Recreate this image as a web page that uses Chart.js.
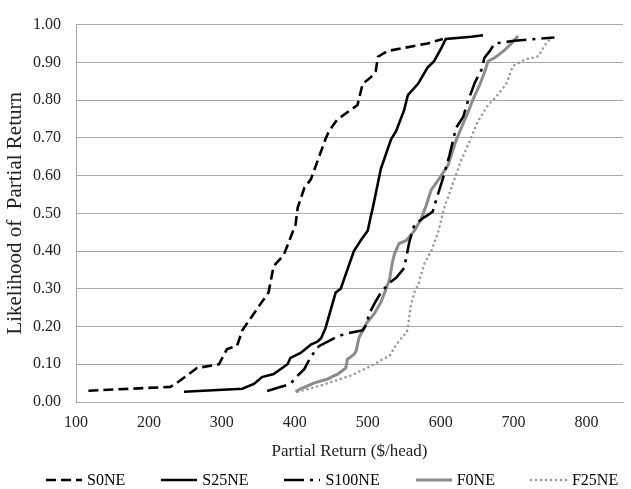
<!DOCTYPE html>
<html>
<head>
<meta charset="utf-8">
<script src="https://cdn.jsdelivr.net/npm/chart.js@4.4.1/dist/chart.umd.min.js"></script>
<style>
  html, body { margin: 0; padding: 0; background: #fff; }
  .wrap { position: relative; width: 631px; height: 489px; }
  canvas { display: block; }
  #legend {
    position: absolute; left: 45px; top: 470px; height: 20px;
    display: flex; gap: 35px; align-items: center;
    font: 16px 'Liberation Serif', 'Times New Roman', serif; color: #000;
  }
  #legend .item { display: flex; align-items: center; white-space: pre; }
  #legend svg { margin-right: 4px; }
</style>
</head>
<body>
<div class="wrap">
  <canvas id="returnChart" width="631" height="489"></canvas>
  <div id="legend"></div>
</div>
<script>
// cumulative likelihood vs partial return ($/head)
const seriesNames = ['S0NE', 'S25NE', 'S100NE', 'F0NE', 'F25NE'];

const s0neX = [117, 229, 238, 266, 296, 307, 321, 328, 353, 364, 371, 385, 401, 404, 413, 422, 442, 447, 458, 486, 493, 504, 511, 514, 527, 582, 603];
const s0neY = [0.03, 0.04, 0.05, 0.09, 0.10, 0.14, 0.15, 0.19, 0.26, 0.29, 0.36, 0.39, 0.47, 0.515, 0.567, 0.59, 0.696, 0.718, 0.748, 0.787, 0.843, 0.86, 0.877, 0.915, 0.93, 0.95, 0.962];

const s25neX = [248, 328, 344, 355, 371, 390, 394, 408, 422, 431, 436, 442, 456, 463, 481, 491, 500, 504, 507, 518, 532, 539, 550, 555, 569, 582, 591, 601, 607, 642, 658];
const s25neY = [0.027, 0.035, 0.048, 0.066, 0.074, 0.10, 0.117, 0.13, 0.152, 0.16, 0.169, 0.195, 0.29, 0.30, 0.40, 0.43, 0.454, 0.49, 0.515, 0.618, 0.696, 0.718, 0.774, 0.813, 0.843, 0.886, 0.903, 0.938, 0.962, 0.968, 0.972];

const s100neX = [362, 394, 404, 413, 422, 433, 459, 472, 493, 498, 502, 509, 518, 530, 539, 550, 553, 557, 564, 578, 589, 594, 603, 612, 621, 631, 637, 647, 656, 660, 667, 674, 701, 756];
const s100neY = [0.029, 0.048, 0.07, 0.087, 0.12, 0.148, 0.174, 0.182, 0.19, 0.204, 0.234, 0.26, 0.29, 0.316, 0.329, 0.355, 0.385, 0.424, 0.47, 0.49, 0.504, 0.536, 0.592, 0.653, 0.726, 0.756, 0.795, 0.847, 0.88, 0.912, 0.929, 0.95, 0.957, 0.966];

const f0neX = [401, 408, 426, 445, 454, 459, 470, 472, 475, 481, 484, 488, 498, 509, 518, 525, 530, 534, 537, 543, 553, 564, 573, 580, 587, 598, 610, 621, 631, 637, 644, 653, 660, 665, 674, 688, 697, 706];
const f0neY = [0.027, 0.035, 0.05, 0.061, 0.07, 0.074, 0.09, 0.113, 0.117, 0.126, 0.135, 0.17, 0.208, 0.234, 0.264, 0.299, 0.325, 0.372, 0.394, 0.42, 0.428, 0.454, 0.484, 0.52, 0.562, 0.592, 0.627, 0.692, 0.739, 0.765, 0.80, 0.838, 0.873, 0.903, 0.912, 0.933, 0.95, 0.97];

const f25neX = [404, 436, 477, 509, 520, 530, 539, 550, 553, 555, 559, 564, 569, 578, 587, 596, 605, 617, 628, 640, 651, 665, 676, 690, 699, 715, 734, 743, 751];
const f25neY = [0.027, 0.044, 0.07, 0.10, 0.113, 0.122, 0.152, 0.178, 0.182, 0.195, 0.256, 0.29, 0.31, 0.368, 0.40, 0.446, 0.515, 0.58, 0.64, 0.692, 0.744, 0.787, 0.808, 0.843, 0.89, 0.907, 0.916, 0.946, 0.964];

const xTicks = [100, 200, 300, 400, 500, 600, 700, 800];

const toPoints = (xs, ys) => xs.map((x, i) => ({ x: x, y: ys[i] }));

const serif = "'Liberation Serif', 'Times New Roman', serif";
const gridGray = '#a9a9a9';

// legend below the chart, built from the datasets (line samples use the same dash as the series)
const htmlLegend = {
  id: 'htmlLegend',
  afterUpdate(chart) {
    const box = document.getElementById('legend');
    box.innerHTML = '';
    chart.data.datasets.forEach((ds) => {
      const item = document.createElement('div');
      item.className = 'item';
      const dash = (ds.borderDash || []).join(' ');
      item.innerHTML =
        '<svg width="38" height="6"><line x1="1" y1="3" x2="37" y2="3" stroke="' + ds.borderColor +
        '" stroke-width="' + ds.borderWidth + '" stroke-dasharray="' + dash +
        '" stroke-linecap="' + (ds.borderCapStyle || 'butt') + '"/></svg>';
      const label = document.createElement('span');
      label.textContent = ds.label;
      item.appendChild(label);
      box.appendChild(item);
    });
  },
};

const ctx = document.getElementById('returnChart').getContext('2d');

new Chart(ctx, {
  type: 'line',
  data: {
    datasets: [
      {
        label: seriesNames[0],
        data: toPoints(s0neX, s0neY),
        borderColor: '#000',
        borderWidth: 2.6,
        borderDash: [10, 5],
      },
      {
        label: seriesNames[1],
        data: toPoints(s25neX, s25neY),
        borderColor: '#000',
        borderWidth: 2.6,
      },
      {
        label: seriesNames[2],
        data: toPoints(s100neX, s100neY),
        borderColor: '#000',
        borderWidth: 2.6,
        borderDash: [20, 6, 3, 6],
      },
      {
        label: seriesNames[3],
        data: toPoints(f0neX, f0neY),
        borderColor: '#8c8c8c',
        borderWidth: 3,
      },
      {
        label: seriesNames[4],
        data: toPoints(f25neX, f25neY),
        borderColor: '#999999',
        borderWidth: 2.6,
        borderDash: [0, 5],
        borderCapStyle: 'round',
      },
    ],
  },
  options: {
    responsive: false,
    animation: false,
    elements: {
      point: { radius: 0 },
      line: { tension: 0, fill: false },
    },
    layout: {
      padding: { top: 16, right: 8, bottom: 27, left: 10 },
    },
    plugins: {
      tooltip: { enabled: false },
      legend: { display: false },
    },
    scales: {
      x: {
        type: 'linear',
        min: 100,
        max: 850,
        afterBuildTicks: (scale) => {
          scale.ticks = xTicks.map((v) => ({ value: v }));
        },
        afterFit: (scale) => {
          scale.height = 60;
        },
        grid: { display: false, drawTicks: false },
        border: { display: true, color: gridGray },
        ticks: {
          padding: 11,
          color: '#222',
          font: { family: serif, size: 16 },
        },
        title: {
          display: true,
          text: 'Partial Return ($/head)',
          color: '#222',
          font: { family: serif, size: 17 },
          padding: { top: 0, bottom: 0 },
        },
      },
      y: {
        min: 0,
        max: 1,
        afterFit: (scale) => {
          scale.width = 66;
        },
        grid: { color: gridGray, lineWidth: 1, drawTicks: false },
        border: { display: true, color: gridGray },
        ticks: {
          stepSize: 0.1,
          padding: 15,
          color: '#222',
          font: { family: serif, size: 16 },
          callback: (v) => v.toFixed(2),
        },
        title: {
          display: true,
          text: 'Likelihood of  Partial Return',
          color: '#222',
          font: { family: serif, size: 21 },
          padding: { top: -7, bottom: 0 },
        },
      },
    },
  },
  plugins: [htmlLegend],
});
</script>
</body>
</html>
